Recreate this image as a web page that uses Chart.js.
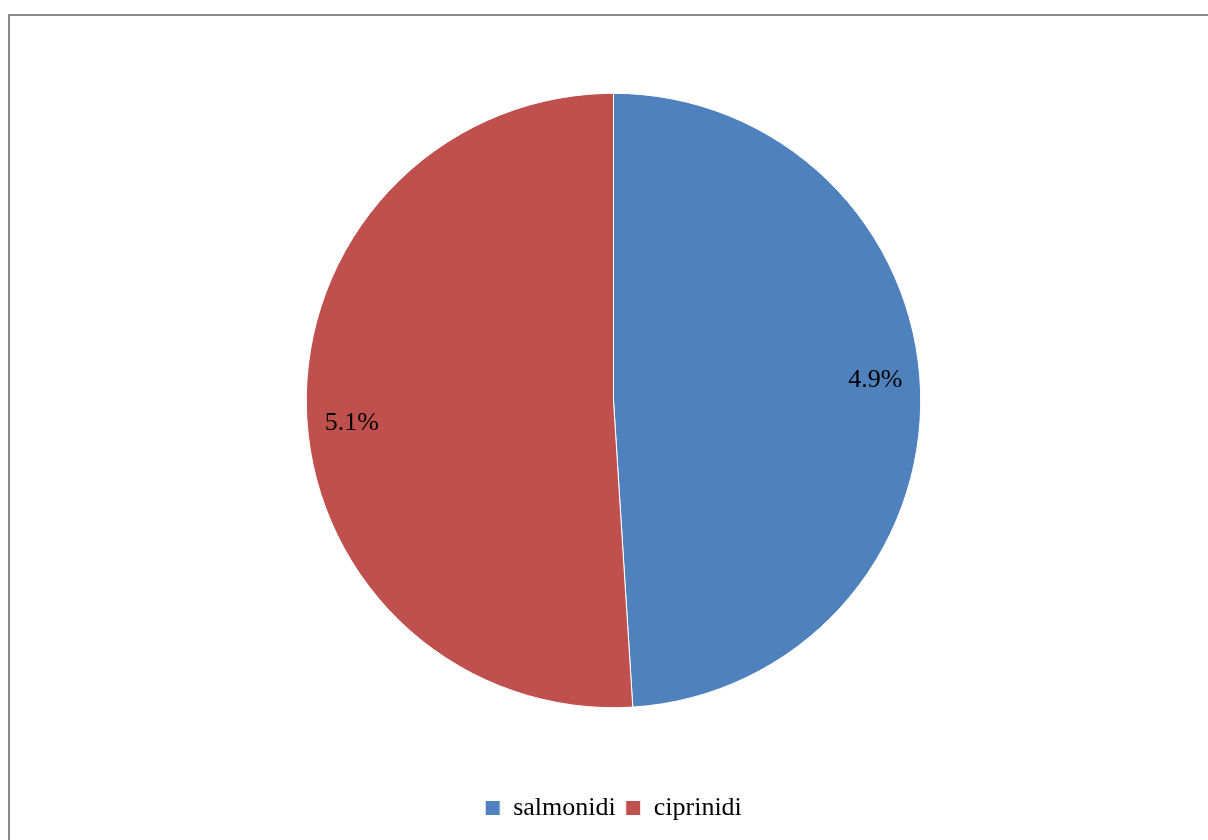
<!DOCTYPE html>
<html>
<head>
<meta charset="utf-8">
<title>salmonidi / ciprinidi</title>
<script src="https://cdn.jsdelivr.net/npm/chart.js@4/dist/chart.umd.min.js"></script>
<style>
  html, body { margin: 0; padding: 0; background: #fff; }
  #frame {
    position: absolute; left: 8px; top: 14px; width: 1300px; height: 900px;
    border-top: 2px solid #898989; border-left: 2px solid #898989;
  }
  #pieChart { position: absolute; left: 0; top: 0; }
</style>
</head>
<body>
<div id="frame"></div>
<canvas id="pieChart" width="1208" height="840"></canvas>
<script>
// categories and values
const categories = ['salmonidi', 'ciprinidi'];
const values = [4.9, 5.1];
const valueLabels = ['4.9%', '5.1%'];
const sliceColors = ['#4F81BD', '#C0504D'];

// writes the value label inside each slice, near the rim
const sliceLabels = {
  id: 'sliceLabels',
  afterDatasetsDraw(chart) {
    const ctx = chart.ctx;
    const arcs = chart.getDatasetMeta(0).data;
    ctx.save();
    ctx.font = '26px "Liberation Serif", "Times New Roman", serif';
    ctx.fillStyle = '#000';
    ctx.textAlign = 'center';
    ctx.textBaseline = 'middle';
    arcs.forEach(function (arc, i) {
      const p = arc.getProps(['x', 'y', 'startAngle', 'endAngle', 'outerRadius'], true);
      const mid = (p.startAngle + p.endAngle) / 2 - 0.05;
      const r = p.outerRadius * 0.855;
      ctx.fillText(valueLabels[i], p.x + Math.cos(mid) * r, p.y + Math.sin(mid) * r + 1);
    });
    ctx.restore();
  }
};

const ctx = document.getElementById('pieChart').getContext('2d');
new Chart(ctx, {
  type: 'pie',
  data: {
    labels: categories,
    datasets: [{
      data: values,
      backgroundColor: sliceColors,
      borderColor: '#fff',
      borderWidth: 1
    }]
  },
  options: {
    responsive: false,
    animation: false,
    radius: '80%',
    layout: { padding: { top: 16, left: 19, right: 0, bottom: 9 } },
    plugins: {
      legend: {
        position: 'bottom',
        labels: {
          boxWidth: 15,
          boxHeight: 15,
          padding: 10,
          color: '#000',
          font: { size: 26, family: '"Liberation Serif", "Times New Roman", serif' }
        }
      },
      tooltip: { enabled: false }
    }
  },
  plugins: [sliceLabels]
});
</script>
</body>
</html>
